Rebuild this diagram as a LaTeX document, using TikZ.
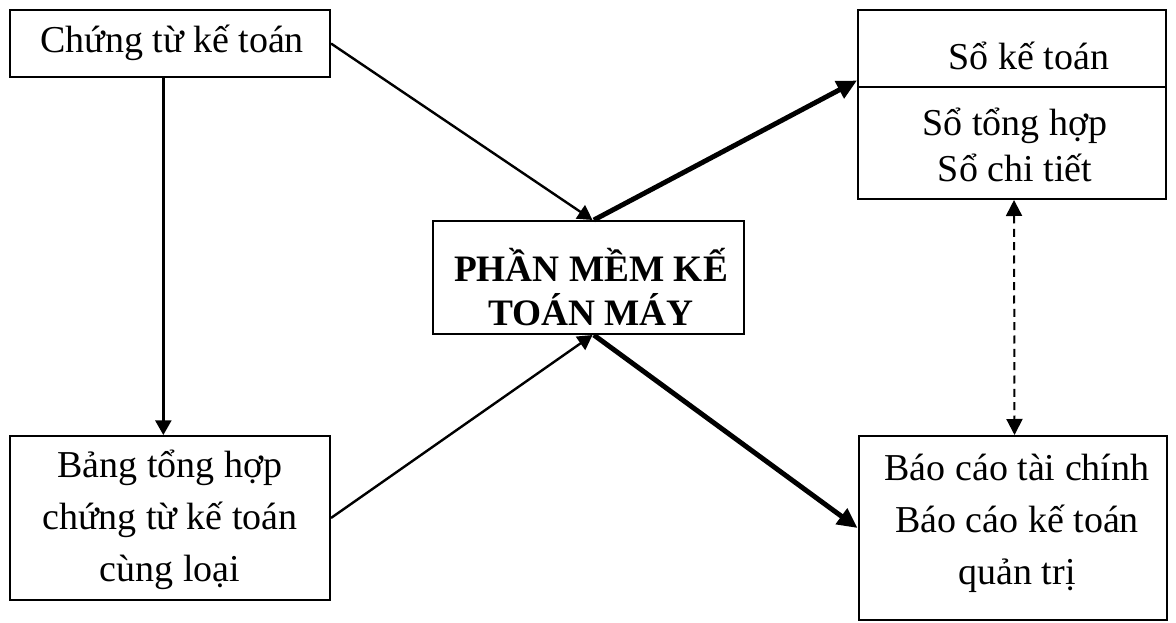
\documentclass[tikz,border=0pt]{standalone}
\usepackage{fontspec}
\setmainfont{Liberation Serif}
\usetikzlibrary{arrows.meta}
\begin{document}
\begin{tikzpicture}[x=0.75pt,y=-0.75pt,
  box/.style={draw,line width=1.5pt,inner sep=0pt,minimum width=#1},
  lbl/.style={align=center,inner sep=0pt,font=\fontsize{28.5}{39}\selectfont},
  thin/.style={line width=1.8pt,-{Triangle[length=11pt,width=12pt]}},
  thick/.style={line width=3.7pt,-{Triangle[length=15pt,width=14pt]}},
  dash2/.style={line width=1.5pt,dash pattern=on 6pt off 4pt,{Triangle[length=12pt,width=12pt]}-{Triangle[length=12pt,width=12pt]}}]
\useasboundingbox (0,0) rectangle (1176,623);

% boxes
\node[box=240pt,minimum height=50.25pt] (ct) at (170,43.5) {};
\node[box=240pt,minimum height=123pt] (bth) at (170,518) {};
\node[box=233.25pt,minimum height=84.75pt] (pm) at (588.5,277.5) {};
\node[box=231pt,minimum height=141.75pt] (sk) at (1012,104.5) {};
\node[box=231pt,minimum height=138pt] (bc) at (1012.5,528) {};
\draw[line width=1.5pt] ([yshift=-58.5pt]sk.north west) -- ([yshift=-58.5pt]sk.north east);

% texts
\node[lbl] (tct) at (172,43) {Chứng từ kế toán};
\node[lbl] (tbth) at (170,520) {Bảng tổng hợp\\chứng từ kế toán\\cùng loại};
\node[lbl,font=\bfseries\fontsize{28}{33}\selectfont] (tpm) at (591,287) {PHẦN MỀM KẾ\\TOÁN MÁY};
\node[lbl] (tsk) at (1029,56) {Sổ kế toán};
\node[lbl,font=\fontsize{28.5}{34}\selectfont] (tsk2) at (1015,145) {Sổ tổng hợp\\Sổ chi tiết};
\node[lbl] (tbc) at (1017,523) {Báo cáo tài chính\\Báo cáo kế toán\\quản trị};

% connectors
\draw[thin] (ct.east) -- ([xshift=3pt]pm.north);
\draw[thin] ([xshift=-5pt]ct.south) -- ([xshift=-5pt]bth.north);
\draw[thin] (bth.east) -- ([xshift=3pt]pm.south);
\draw[thick] ([xshift=4pt]pm.north) -- ([yshift=18pt]sk.west);
\draw[thick] ([xshift=4pt]pm.south) -- (bc.west);
\draw[dash2] ([xshift=1.5pt]sk.south) -- ([xshift=1.5pt]bc.north);
\end{tikzpicture}
\end{document}
